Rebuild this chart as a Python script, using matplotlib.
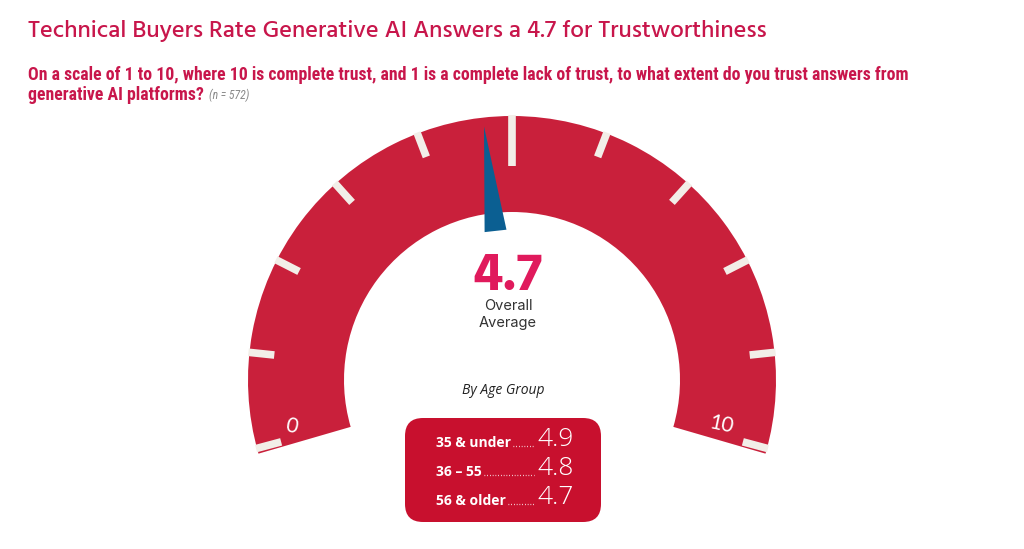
import numpy as np
import matplotlib
matplotlib.use("Agg")
import matplotlib.pyplot as plt
from matplotlib.patches import Wedge, Polygon, FancyBboxPatch

# ---- data ----
title = "Technical Buyers Rate Generative AI Answers a 4.7 for Trustworthiness"
question_line1 = "On a scale of 1 to 10, where 10 is complete trust, and 1 is a complete lack of trust, to what extent do you trust answers from"
question_line2 = "generative AI platforms?"
sample_note = "(n = 572)"
overall_value = 4.7
scale_min, scale_max = 0, 10
scale_ticks = list(range(0, 11))
age_groups = ["35 & under", "36 – 55", "56 & older"]
age_values = [4.9, 4.8, 4.7]

# ---- style ----
RED = "#C9203B"
BOX_RED = "#C8102E"
TITLE_C = "#C8164B"
PINK = "#E01A5C"
NEEDLE = "#0B5F92"
TICK_C = "#F2EEE8"

F_TITLE = ["Hind", "Lato"]
F_COND = ["Roboto Condensed", "PT Sans Narrow", "Roboto"]
F_BODY = ["Open Sans", "DejaVu Sans"]

W, H = 1024, 549
fig = plt.figure(figsize=(W / 100, H / 100), dpi=100)
ax = fig.add_axes([0, 0, 1, 1])
ax.set_xlim(0, W)
ax.set_ylim(0, H)
ax.axis("off")

def Y(y_img):
    return H - y_img

# gauge geometry
cx, cy = 512, Y(380)
r_out, r_in = 264, 168
a_start, a_end = 195.0, -15.0
pad_deg = 1.2

def val2ang(v):
    return np.radians(a_start + (v - scale_min) / (scale_max - scale_min) * (a_end - a_start))

ax.add_patch(Wedge((cx, cy), r_out, a_end - pad_deg, a_start + pad_deg, width=r_out - r_in,
                   facecolor=RED, edgecolor="none", zorder=1))

for v in scale_ticks:
    a = val2ang(v)
    L = 50 if v == 5 else 25
    r0 = r_out - L
    r1 = r_out + 1
    ax.plot([cx + r0 * np.cos(a), cx + r1 * np.cos(a)],
            [cy + r0 * np.sin(a), cy + r1 * np.sin(a)],
            color=TICK_C, lw=5.5, solid_capstyle="butt", zorder=2)

# needle
a = val2ang(overall_value)
perp = a + np.pi / 2
r_tip, r_base, half_w = 255, 150, 11
tip = (cx + r_tip * np.cos(a), cy + r_tip * np.sin(a))
b1 = (cx + r_base * np.cos(a) + half_w * np.cos(perp), cy + r_base * np.sin(a) + half_w * np.sin(perp))
b2 = (cx + r_base * np.cos(a) - half_w * np.cos(perp), cy + r_base * np.sin(a) - half_w * np.sin(perp))
ax.add_patch(Polygon([tip, b1, b2], closed=True, facecolor=NEEDLE, edgecolor="none", zorder=3))

# end labels
ax.text(292, Y(426), str(scale_min), color="white", fontsize=15, ha="center", va="center",
        rotation=-12, family=["Lato", "DejaVu Sans"], zorder=3)
ax.text(721, Y(425), str(scale_max), color="white", fontsize=15, ha="center", va="center",
        rotation=-12, family=["Lato", "DejaVu Sans"], zorder=3)

# center text
ax.text(508, Y(290), f"{overall_value}", color=PINK, fontsize=39, fontweight="bold",
        ha="center", va="baseline", family=F_TITLE)
ax.text(508, Y(306), "Overall", color="#333333", fontsize=10.5, ha="center", va="center",
        family=["Inter", "DejaVu Sans"])
ax.text(508, Y(323), "Average", color="#333333", fontsize=10.5, ha="center", va="center",
        family=["Inter", "DejaVu Sans"])

ax.text(503, Y(391), "By Age Group", color="#222222", fontsize=10, style="italic",
        ha="center", va="center", family=F_BODY)

# box
bx0, bx1, by0, by1 = 405, 601, 418, 522
ax.add_patch(FancyBboxPatch((bx0 + 18, Y(by1) + 18), (bx1 - bx0) - 36, (by1 - by0) - 36,
                            boxstyle="round,pad=18,rounding_size=18",
                            facecolor=BOX_RED, edgecolor="none", zorder=1))

row_y = [447, 476, 505]
fig.canvas.draw()
renderer = fig.canvas.get_renderer()
for lab, val, yy in zip(age_groups, age_values, row_y):
    t = ax.text(436, Y(yy), lab, color="white", fontsize=10, fontweight="bold",
                ha="left", va="baseline", family=F_BODY, zorder=3)
    bb = t.get_window_extent(renderer=renderer)
    x_end = ax.transData.inverted().transform((bb.x1, bb.y0))[0]
    ax.plot([x_end + 2, 534], [Y(yy) + 1, Y(yy) + 1], color="white", lw=0.9,
            linestyle=(0, (0.6, 1.6)), zorder=3)
    ax.text(537, Y(yy) + 1, f"{val}", color="white", fontsize=19, fontweight="light",
            ha="left", va="baseline", family=F_BODY, zorder=3)

# titles
ax.text(28, Y(37), title, color=TITLE_C, fontsize=17.5, ha="left", va="baseline", family=F_TITLE,
        fontweight="medium")
ax.text(28, Y(80), question_line1, color=TITLE_C, fontsize=12.8, fontweight="semibold",
        ha="left", va="baseline", family=F_COND)
t2 = ax.text(28, Y(100), question_line2, color=TITLE_C, fontsize=12.8, fontweight="semibold",
             ha="left", va="baseline", family=F_COND)
fig.canvas.draw()
bb = t2.get_window_extent(renderer=fig.canvas.get_renderer())
x_end = ax.transData.inverted().transform((bb.x1, bb.y0))[0]
ax.text(x_end + 5, Y(99), sample_note, color="#888888", fontsize=8.5, style="italic",
        ha="left", va="baseline", family=F_COND)

fig.savefig("out.png", dpi=100, facecolor="white")
